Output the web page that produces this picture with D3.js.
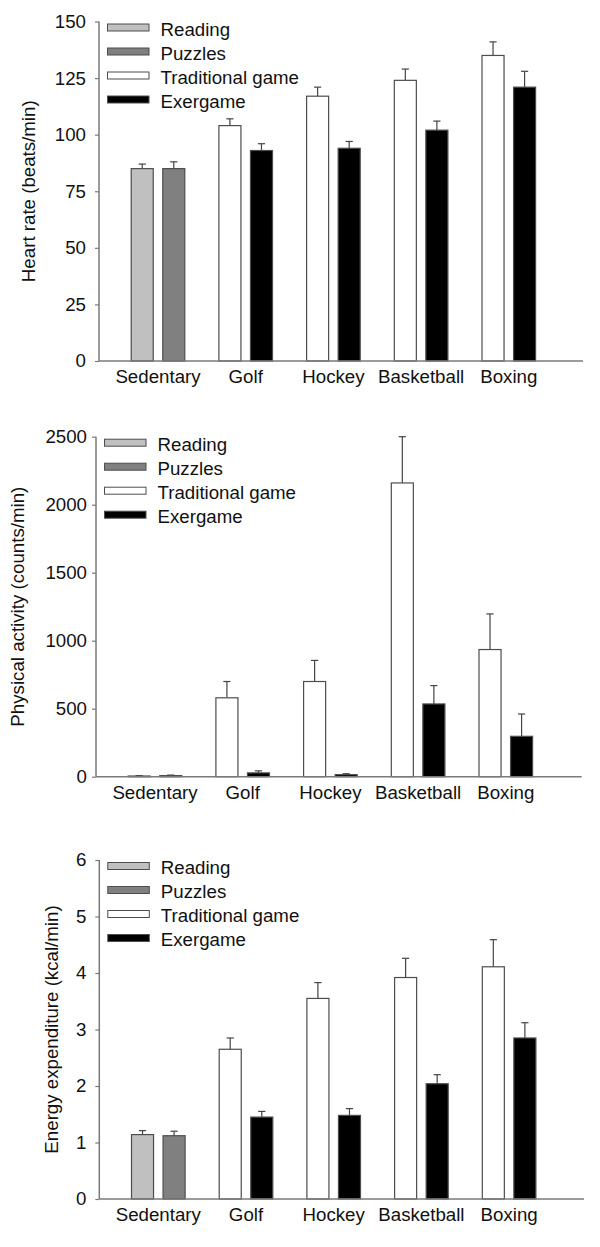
<!DOCTYPE html>
<html>
<head>
<meta charset="utf-8">
<script src="https://cdn.jsdelivr.net/npm/d3@7"></script>
<style>
  html, body { margin: 0; padding: 0; background: #fff; }
  svg { display: block; font-family: "Liberation Sans", Arial, Helvetica, sans-serif; }
</style>
</head>
<body>
<svg id="chart" width="600" height="1247"></svg>
<script>
// ---------- data ----------
const categories = ["Sedentary", "Golf", "Hockey", "Basketball", "Boxing"];
const conditions = ["Reading", "Puzzles", "Traditional game", "Exergame"];

// first bar of each group: Reading (Sedentary) / Traditional game (others)
// second bar of each group: Puzzles (Sedentary) / Exergame (others)
const heartRateFirst = [85, 104, 117, 124, 135];
const heartRateFirstSE = [2, 3, 4, 5, 6];
const heartRateSecond = [85, 93, 94, 102, 121];
const heartRateSecondSE = [3, 3, 3, 4, 7];
const heartRateTicks = [0, 25, 50, 75, 100, 125, 150];

const activityFirst = [5, 580, 700, 2160, 935];
const activityFirstSE = [3, 120, 155, 340, 262];
const activitySecond = [8, 28, 15, 535, 297];
const activitySecondSE = [4, 15, 7, 135, 164];
const activityTicks = [0, 500, 1000, 1500, 2000, 2500];

const energyFirst = [1.14, 2.65, 3.55, 3.92, 4.11];
const energyFirstSE = [0.07, 0.2, 0.28, 0.34, 0.48];
const energySecond = [1.12, 1.45, 1.48, 2.04, 2.85];
const energySecondSE = [0.08, 0.1, 0.12, 0.16, 0.27];
const energyTicks = [0, 1, 2, 3, 4, 5, 6];

const yTitles = ["Heart rate (beats/min)", "Physical activity (counts/min)", "Energy expenditure (kcal/min)"];

// ---------- styles ----------
const conditionFill = {
  "Reading": "#c0c0c0",
  "Puzzles": "#808080",
  "Traditional game": "#ffffff",
  "Exergame": "#000000"
};
const axisColor = "#7a7a7a";
const barStroke = "#4d4d4d";
const errColor = "#444444";
const fontSize = 18.7;
const fontFam = "Liberation Sans, Arial, sans-serif";

const svg = d3.select("#chart");

function drawPanel(p) {
  const g = svg.append("g");
  const y = d3.scaleLinear().domain([0, p.ticks[p.ticks.length - 1]]).range([p.bottom, p.top]);
  const x = d3.scaleBand().domain(categories).range([p.left + 15.15, p.left + 453.65]).paddingInner(0).paddingOuter(0);
  const sub = d3.scaleBand().domain([0, 1]).range([-27.3, 27.3]).paddingInner(0.27).paddingOuter(0);

  const bars = [];
  categories.forEach((c, i) => {
    const firstCond = i === 0 ? "Reading" : "Traditional game";
    const secondCond = i === 0 ? "Puzzles" : "Exergame";
    bars.push({ cat: c, k: 0, cond: firstCond, v: p.first[i], se: p.firstSE[i] });
    bars.push({ cat: c, k: 1, cond: secondCond, v: p.second[i], se: p.secondSE[i] });
  });

  const bx = d => x(d.cat) + x.bandwidth() / 2 + sub(d.k);

  // error bars (upper only)
  const eb = g.append("g").attr("stroke", errColor).attr("stroke-width", 1.2);
  bars.forEach(d => {
    const cx = bx(d) + sub.bandwidth() / 2;
    eb.append("line").attr("x1", cx).attr("x2", cx).attr("y1", y(d.v)).attr("y2", y(d.v + d.se));
    eb.append("line").attr("x1", cx - 3.6).attr("x2", cx + 3.6).attr("y1", y(d.v + d.se)).attr("y2", y(d.v + d.se));
  });

  // bars
  g.append("g").selectAll("rect").data(bars).join("rect")
    .attr("x", d => bx(d) + 0.5)
    .attr("y", d => y(d.v))
    .attr("width", sub.bandwidth() - 1)
    .attr("height", d => y(0) - y(d.v))
    .attr("fill", d => conditionFill[d.cond])
    .attr("stroke", barStroke)
    .attr("stroke-width", 1.2);

  // y axis
  const yAxis = d3.axisLeft(y).tickValues(p.ticks).tickSize(4).tickPadding(p.tickPad).tickFormat(d3.format("d"));
  const ya = g.append("g").attr("transform", `translate(${p.left},0)`).call(yAxis);
  ya.select(".domain").attr("stroke", axisColor).attr("stroke-width", 1.5).attr("d", `M0,${p.top}V${p.bottom}`);
  ya.selectAll(".tick line").attr("stroke", axisColor).attr("stroke-width", 1.2);
  ya.selectAll(".tick text").attr("font-size", fontSize).attr("fill", "#111").attr("font-family", fontFam);

  // x axis
  const xAxis = d3.axisBottom(x).tickSize(0).tickPadding(0);
  const xa = g.append("g").attr("transform", `translate(0,${p.bottom})`).call(xAxis);
  xa.select(".domain").attr("stroke", axisColor).attr("stroke-width", 1.5).attr("d", `M${p.left},0H${p.right}`);
  xa.selectAll(".tick text").attr("font-size", fontSize).attr("fill", "#111")
    .attr("font-family", fontFam)
    .attr("dy", null).attr("y", 22);

  // y title
  g.append("text")
    .attr("transform", `translate(${p.titleX},${(p.top + p.bottom) / 2}) rotate(-90)`)
    .attr("text-anchor", "middle")
    .attr("font-size", fontSize)
    .attr("fill", "#111")
    .text(p.title);

  // legend
  const lg = g.append("g");
  conditions.forEach((c, i) => {
    const cy = p.top + 6 + i * 24;
    lg.append("rect")
      .attr("x", p.left + 8.5).attr("y", cy - 3.5)
      .attr("width", 41.5).attr("height", 7)
      .attr("fill", conditionFill[c]).attr("stroke", barStroke).attr("stroke-width", 1);
    lg.append("text")
      .attr("x", p.left + 61.5).attr("y", cy + 8)
      .attr("font-size", fontSize).attr("fill", "#111")
      .text(c);
  });
}

drawPanel({ top: 21.5, bottom: 361, left: 99, right: 583, ticks: heartRateTicks, tickPad: 9,
  first: heartRateFirst, firstSE: heartRateFirstSE, second: heartRateSecond, secondSE: heartRateSecondSE,
  title: yTitles[0], titleX: 35 });
drawPanel({ top: 436.7, bottom: 776.7, left: 96, right: 581.7, ticks: activityTicks, tickPad: 5,
  first: activityFirst, firstSE: activityFirstSE, second: activitySecond, secondSE: activitySecondSE,
  title: yTitles[1], titleX: 24 });
drawPanel({ top: 860, bottom: 1199, left: 99.3, right: 584, ticks: energyTicks, tickPad: 9,
  first: energyFirst, firstSE: energyFirstSE, second: energySecond, secondSE: energySecondSE,
  title: yTitles[2], titleX: 57.5 });
</script>
</body>
</html>
